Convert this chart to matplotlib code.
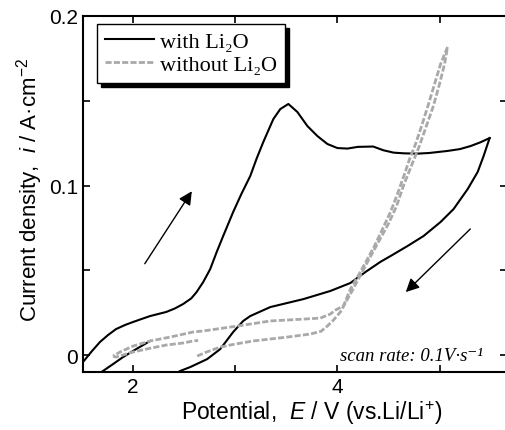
import numpy as np
import matplotlib
matplotlib.use("Agg")
import matplotlib.pyplot as plt
from matplotlib.ticker import FixedLocator

plt.rcParams['font.family'] = ['Liberation Sans', 'DejaVu Sans']
plt.rcParams['mathtext.fontset'] = 'custom'
plt.rcParams['mathtext.rm'] = 'Liberation Sans'
plt.rcParams['mathtext.it'] = 'Liberation Sans:italic'
plt.rcParams['mathtext.sf'] = 'Liberation Sans'

# with Li2O: forward scan (V, A/cm2)
with_fwd_E = [1.51, 1.60, 1.676, 1.755, 1.833, 1.92, 2.0, 2.08, 2.167, 2.245,
              2.324, 2.41, 2.49, 2.569, 2.62, 2.686, 2.755, 2.82, 2.882, 2.98,
              3.06, 3.147, 3.21, 3.275, 3.373, 3.441, 3.52, 3.608, 3.706, 3.804,
              3.902, 4.0, 4.098, 4.20, 4.35, 4.45, 4.55, 4.65, 4.78, 4.90,
              5.078, 5.20, 5.304, 5.40, 5.49]
with_fwd_i = [-0.0041, 0.0025, 0.0077, 0.0118, 0.0153, 0.0177, 0.0195, 0.0212,
              0.0230, 0.0242, 0.0254, 0.0275, 0.0301, 0.0334, 0.0370, 0.0430,
              0.0507, 0.0610, 0.0702, 0.0844, 0.0950, 0.1056, 0.1160, 0.1257,
              0.1392, 0.1451, 0.1481, 0.1434, 0.1351, 0.1292, 0.1245, 0.1221,
              0.1218, 0.1228, 0.1230, 0.1208, 0.1194, 0.1190, 0.1188, 0.1192,
              0.1204, 0.1215, 0.1233, 0.1255, 0.1280]
# with Li2O: reverse scan
with_rev_E = [5.49, 5.431, 5.373, 5.275, 5.137, 5.01, 4.843, 4.686, 4.52,
              4.422, 4.275, 4.127, 3.931, 3.667, 3.343, 3.147, 3.078, 2.98,
              2.853, 2.725, 2.559, 2.461, 2.40]
with_rev_i = [0.1280, 0.1174, 0.1080, 0.0979, 0.0861, 0.0785, 0.0702, 0.0643,
              0.0584, 0.0550, 0.0490, 0.0425, 0.0378, 0.0330, 0.0283, 0.0230,
              0.0201, 0.0136, 0.0035, -0.0024, -0.0071, -0.0094, -0.0115]
# with Li2O: short piece near the start of the sweep
with_start_E = [1.65, 1.706, 1.80, 1.902, 2.03, 2.167]
with_start_i = [-0.0115, -0.0094, -0.0055, -0.0012, 0.0035, 0.0083]

# without Li2O: forward scan
wo_fwd_E = [2.627, 2.72, 2.853, 3.0, 3.176, 3.35, 3.51, 3.735, 3.84, 3.902,
            3.96, 4.029, 4.08, 4.15, 4.22, 4.30, 4.40, 4.50, 4.58, 4.647, 4.72,
            4.80, 4.87, 4.94, 5.00, 5.05, 5.078]
wo_fwd_i = [-0.0006, 0.0018, 0.0047, 0.0065, 0.0083, 0.0095, 0.0106, 0.0124,
            0.0140, 0.0171, 0.0205, 0.0254, 0.0310, 0.0385, 0.0465, 0.0555,
            0.0665, 0.0775, 0.0880, 0.1000, 0.1110, 0.1230, 0.1350, 0.1470,
            0.1600, 0.1720, 0.1817]
# without Li2O: reverse scan
wo_rev_E = [5.078, 5.01, 4.951, 4.892, 4.824, 4.765, 4.706, 4.657, 4.588,
            4.52, 4.441, 4.363, 4.284, 4.196, 4.127, 4.059, 3.98, 3.931,
            3.833, 3.667, 3.343, 3.02, 2.686, 2.588, 2.363, 2.167, 2.0, 1.873,
            1.804]
wo_rev_i = [0.1817, 0.1717, 0.1599, 0.1481, 0.1351, 0.1245, 0.1156, 0.1068,
            0.0950, 0.0844, 0.0743, 0.0643, 0.0555, 0.0460, 0.0389, 0.0289,
            0.0265, 0.0242, 0.0218, 0.0212, 0.0201, 0.0171, 0.0142, 0.0136,
            0.0106, 0.0083, 0.0053, 0.0018, -0.0006]
# without Li2O: end of the cycle
wo_end_E = [1.804, 1.833, 2.0, 2.167, 2.324, 2.49, 2.588, 2.637]
wo_end_i = [-0.0006, -0.0012, 0.0018, 0.0040, 0.0059, 0.0071, 0.0083, 0.0086]

fig = plt.figure(figsize=(5.05, 4.31), dpi=100)
ax = fig.add_axes([83 / 505, 58 / 431, 424 / 505, 356 / 431])

black = dict(color='black', lw=1.5)
gray = dict(color='#a9a9a9', lw=2.0, ls=(0, (2.2, 0.8)))

ax.plot(with_fwd_E, with_fwd_i, label='with Li\u2082O', **black)
ax.plot(with_rev_E, with_rev_i, **black)
ax.plot(with_start_E, with_start_i, **black)
ax.plot(wo_fwd_E, wo_fwd_i, label='without Li\u2082O', **gray)
ax.plot(wo_rev_E, wo_rev_i, **gray)
ax.plot(wo_end_E, wo_end_i, **gray)

ax.set_xlim(1.51, 5.66)
ax.set_ylim(-0.01, 0.2)
ax.xaxis.set_major_locator(FixedLocator([2, 4]))
ax.xaxis.set_minor_locator(FixedLocator([3, 5]))
ax.yaxis.set_major_locator(FixedLocator([0, 0.1, 0.2]))
ax.yaxis.set_minor_locator(FixedLocator([0.05, 0.15]))
ax.set_yticklabels(['0', '0.1', '0.2'])
ax.tick_params(which='both', direction='in', top=True, right=True,
               length=5, width=1.2, labelsize=15)
for s in ax.spines.values():
    s.set_linewidth(1.5)

ax.set_xlabel(r'Potential,  $\mathit{E}$ / V (vs.Li/Li$^{+}$)', fontsize=16.5)
ax.xaxis.set_label_coords(0.538, -0.072)
ax.set_ylabel(r'Current density,  $\mathit{i}$ / A·cm$^{-2}$', fontsize=16)
ax.yaxis.set_label_coords(-0.09, 0.514)

ax.annotate('', xy=(2.59, 0.098), xytext=(2.10, 0.0525),
            arrowprops=dict(arrowstyle='-|>', color='black', lw=1,
                            mutation_scale=20))
ax.annotate('', xy=(4.65, 0.036), xytext=(5.32, 0.0755),
            arrowprops=dict(arrowstyle='-|>', color='black', lw=1,
                            mutation_scale=20))

ax.text(5.42, 0.0, 'scan rate: 0.1V\u00b7s\u207b\u00b9', ha='right', va='center',
        fontsize=13.5, style='italic',
        family=['Liberation Serif', 'DejaVu Serif'])

leg = ax.legend(loc='upper left', bbox_to_anchor=(0.033, 0.978),
                borderaxespad=0, frameon=True, fancybox=False,
                framealpha=1, edgecolor='black',
                shadow={'color': 'black', 'alpha': 1, 'ox': 3, 'oy': -3},
                prop={'family': ['Liberation Serif', 'DejaVu Serif'], 'size': 16},
                handlelength=2.2, handletextpad=0.3, labelspacing=0.1,
                borderpad=0.35)
leg.get_frame().set_linewidth(1.0)

fig.savefig('out.png', dpi=100)
